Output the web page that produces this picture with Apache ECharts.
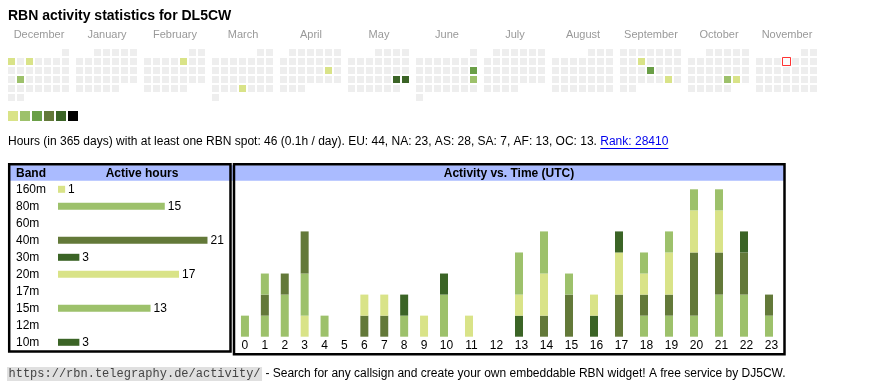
<!DOCTYPE html>
<html><head><meta charset="utf-8">
<script src="https://cdn.jsdelivr.net/npm/echarts@6/dist/echarts.min.js"></script>
<style>html,body{margin:0;padding:0;background:#fff}#c{width:870px;height:390px}</style>
</head><body><div id="c"></div>
<script>
// ---------- data ----------
const titleText = 'RBN activity statistics for DL5CW';
const months = ['2024-12','2025-01','2025-02','2025-03','2025-04','2025-05','2025-06','2025-07','2025-08','2025-09','2025-10','2025-11'];
const monthNames = ['December','January','February','March','April','May','June','July','August','September','October','November'];
const activeDays = ['2024-12-02','2024-12-04','2024-12-17','2025-02-07','2025-03-27','2025-04-19','2025-05-24','2025-05-25','2025-06-15','2025-06-22','2025-09-10','2025-09-18','2025-09-27','2025-10-24','2025-10-25'];
const activeLevels = [1,1,2,1,1,1,5,5,3,2,1,3,1,2,1];
const levelValues = [1,2,3,4,5,6];
const todayDate = '2025-11-06';
const statsText = 'Hours (in 365 days) with at least one RBN spot: 46 (0.1h / day). EU: 44, NA: 23, AS: 28, SA: 7, AF: 13, OC: 13. ';
const rankText = 'Rank: 28410';
const bands = ['160m','80m','60m','40m','30m','20m','17m','15m','12m','10m'];
const bandHours = [1,15,0,21,3,17,0,13,0,3];
const hours = ['0','1','2','3','4','5','6','7','8','9','10','11','12','13','14','15','16','17','18','19','20','21','22','23'];
const act160m = [0,0,0,1,0,0,0,0,0,0,0,0,0,0,0,0,0,0,0,0,0,0,0,0];
const act80m  = [1,1,2,2,1,0,0,0,0,0,0,0,0,0,0,0,0,0,1,1,1,2,2,1];
const act60m  = [0,0,0,0,0,0,0,0,0,0,0,0,0,0,0,0,0,0,0,0,0,0,0,0];
const act40m  = [0,1,1,2,0,0,1,1,0,0,0,0,0,0,1,2,0,2,1,1,3,2,2,1];
const act30m  = [0,0,0,0,0,0,0,0,0,0,0,0,0,1,0,0,1,0,0,0,0,0,1,0];
const act20m  = [0,0,0,0,0,0,1,1,0,1,0,1,0,1,2,0,1,2,1,2,2,2,0,0];
const act17m  = [0,0,0,0,0,0,0,0,0,0,0,0,0,0,0,0,0,0,0,0,0,0,0,0];
const act15m  = [0,1,0,0,0,0,0,0,1,0,2,0,0,2,2,1,0,0,1,1,1,1,0,0];
const act12m  = [0,0,0,0,0,0,0,0,0,0,0,0,0,0,0,0,0,0,0,0,0,0,0,0];
const act10m  = [0,0,0,0,0,0,0,0,1,0,1,0,0,0,0,0,0,1,0,0,0,0,0,0];
const bandHourly = [act160m,act80m,act60m,act40m,act30m,act20m,act17m,act15m,act12m,act10m];
const footerUrl = 'https://rbn.telegraphy.de/activity/';
const footerText = ' - Search for any callsign and create your own embeddable RBN widget! A free service by DJ5CW.';

// ---------- styles ----------
const levelColors = ['#d9e388','#9dc16b','#6a9f47','#637939','#3b6426','#000000'];
const bandColors = ['#d9e388','#9dc16b','#6a9f47','#637939','#3b6426','#d9e388','#6a9f47','#9dc16b','#637939','#3b6426'];
const FONT = '"Liberation Sans", Arial, Helvetica, sans-serif';
const MONO = '"Liberation Mono", "DejaVu Sans Mono", monospace';

const chart = echarts.init(document.getElementById('c'), null, {renderer:'canvas'});

const cv = document.createElement('canvas').getContext('2d');
function tw(t, f){ cv.font = f; return cv.measureText(t).width; }

// calendars
const calendars = months.map((m,i)=>({
  orient:'vertical', range:m, cellSize:[9,9], left:7+i*68, top:48,
  splitLine:{show:false},
  itemStyle:{color:'#eeeeee', borderColor:'#ffffff', borderWidth:2},
  dayLabel:{show:false, firstDay:1}, monthLabel:{show:false}, yearLabel:{show:false}
}));

const series = [];
const heatIdx = [];
months.forEach((m,i)=>{
  const data = [];
  activeDays.forEach((d,k)=>{ if (d.startsWith(m)) data.push([d, activeLevels[k]]); });
  heatIdx.push(series.length);
  series.push({type:'heatmap', coordinateSystem:'calendar', calendarIndex:i, data,
    itemStyle:{borderWidth:0}, silent:true});
});
series.push({type:'scatter', coordinateSystem:'calendar', calendarIndex:months.indexOf(todayDate.slice(0,7)),
  data:[[todayDate,1]], symbol:'rect', symbolSize:8,
  itemStyle:{color:'#ffffff', borderColor:'#ff0000', borderWidth:1}, silent:true});

// activity vs time: two grids (single-digit / double-digit hour columns)
const splitAt = 10;
bands.forEach((b,bi)=>{
  series.push({type:'bar', name:b+'a', xAxisIndex:0, yAxisIndex:0, stack:'a', barWidth:8,
    data: bandHourly[bi].slice(0,splitAt), itemStyle:{color:bandColors[bi]}, silent:true});
  series.push({type:'bar', name:b+'b', xAxisIndex:1, yAxisIndex:1, stack:'b', barWidth:8,
    data: bandHourly[bi].slice(splitAt), itemStyle:{color:bandColors[bi]}, silent:true});
});

// band bars
series.push({type:'bar', xAxisIndex:2, yAxisIndex:2, barWidth:7, silent:true,
  data: bandHours.map((v,i)=>({value:v, itemStyle:{color:bandColors[i]}})),
  label:{show:true, position:'right', distance:3, fontSize:12, fontFamily:FONT, color:'#000',
    formatter:p=>p.value>0?String(p.value):''}});

const font12 = '12px ' + FONT;
const statsW = tw(statsText, font12);
const rankW = tw(rankText, font12);
const urlW = tw(footerUrl, '12px ' + MONO);

const graphics = [];
graphics.push({type:'text', left:8, top:9, style:{text:titleText, font:'bold 14px '+FONT, fill:'#000'}});
monthNames.forEach((n,i)=>{
  graphics.push({type:'text', x:39+i*68, y:35, style:{text:n, font:'11px '+FONT, fill:'#999', align:'center', verticalAlign:'middle'}});
});
graphics.push({type:'text', x:8, y:142, style:{text:statsText, font:font12, fill:'#000', verticalAlign:'middle'}});
graphics.push({type:'text', x:8+statsW, y:142, style:{text:rankText, font:font12, fill:'#0000ee', verticalAlign:'middle'}});
graphics.push({type:'line', shape:{x1:8+statsW, y1:148.5, x2:8+statsW+rankW, y2:148.5}, style:{stroke:'#0000ee', lineWidth:1}});
// boxes
graphics.push({type:'rect', shape:{x:9, y:165.3, width:224, height:15.4}, style:{fill:'#aabbff'}});
graphics.push({type:'rect', shape:{x:234, y:165.3, width:550, height:15.4}, style:{fill:'#aabbff'}});
graphics.push({type:'rect', shape:{x:9.2, y:164.3, width:221.3, height:187.2}, style:{fill:'none', stroke:'#000', lineWidth:2.5}});
graphics.push({type:'rect', shape:{x:234, y:164.3, width:550.5, height:190}, style:{fill:'none', stroke:'#000', lineWidth:2.5}});
graphics.push({type:'text', x:16, y:173.3, style:{text:'Band', font:'bold 12px '+FONT, fill:'#000', verticalAlign:'middle'}});
graphics.push({type:'text', x:142, y:173.3, style:{text:'Active hours', font:'bold 12px '+FONT, fill:'#000', align:'center', verticalAlign:'middle'}});
graphics.push({type:'text', x:509, y:173.3, style:{text:'Activity vs. Time (UTC)', font:'bold 12px '+FONT, fill:'#000', align:'center', verticalAlign:'middle'}});
// footer
graphics.push({type:'rect', shape:{x:7, y:367, width:urlW+3, height:14}, style:{fill:'#e0e0e0'}});
graphics.push({type:'text', x:8.5, y:374, style:{text:footerUrl, font:'12px '+MONO, fill:'#444', verticalAlign:'middle'}});
graphics.push({type:'text', x:10+urlW, y:374, style:{text:footerText, font:'12px '+FONT, fill:'#000', verticalAlign:'middle'}});

const hiddenVal = (min,max)=>({type:'value', min, max, show:false});
const option = {
  animation:false,
  textStyle:{fontFamily:FONT},
  calendar: calendars,
  visualMap: {type:'piecewise', seriesIndex:heatIdx, orient:'horizontal', left:8, top:111, padding:0,
    itemWidth:10, itemHeight:10, itemGap:2, showLabel:false, itemSymbol:'rect', selectedMode:false,
    pieces: levelValues.map((v,i)=>({value:v, color:levelColors[i]}))},
  grid:[
    {left:235, width:199, top:189.3, height:147.4},
    {left:431.5, width:350, top:189.3, height:147.4},
    {left:58, width:156.6, top:180.8, height:170}
  ],
  xAxis:[
    {type:'category', gridIndex:0, data:hours.slice(0,splitAt), axisLine:{show:false}, axisTick:{show:false},
      axisLabel:{fontSize:12, color:'#000', margin:3, fontFamily:FONT}},
    {type:'category', gridIndex:1, data:hours.slice(splitAt), axisLine:{show:false}, axisTick:{show:false},
      axisLabel:{fontSize:12, color:'#000', margin:3, fontFamily:FONT, padding:[0,0,0,5]}},
    Object.assign({gridIndex:2}, hiddenVal(0,22))
  ],
  yAxis:[
    Object.assign({gridIndex:0, splitLine:{show:false}}, hiddenVal(0,7)),
    Object.assign({gridIndex:1, splitLine:{show:false}}, hiddenVal(0,7)),
    {type:'category', gridIndex:2, data:bands, inverse:true, axisLine:{show:false}, axisTick:{show:false},
      axisLabel:{fontSize:12, color:'#000', align:'left', margin:42, fontFamily:FONT}}
  ],
  series,
  graphic: graphics
};
chart.setOption(option);
</script></body></html>
